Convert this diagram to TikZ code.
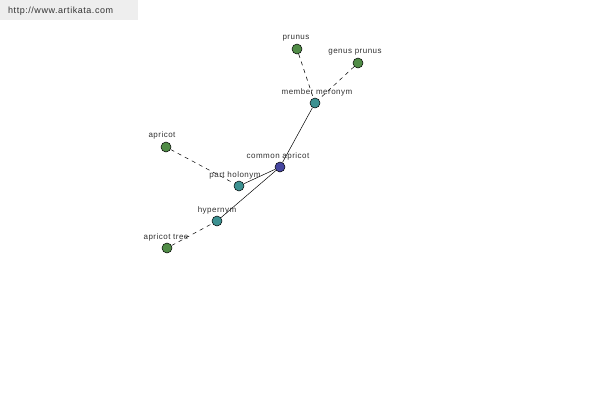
\documentclass[tikz,border=0pt]{standalone}
\usepackage{fontspec}
\setmainfont{Liberation Sans}
\newfontfamily\labfont[LetterSpace=6]{Liberation Sans}
\definecolor{leaf}{RGB}{80,140,70}
\definecolor{mid}{RGB}{60,145,145}
\definecolor{core}{RGB}{70,70,160}
\definecolor{hdr}{RGB}{238,238,238}
\definecolor{lbl}{RGB}{50,50,50}
\tikzset{
  dot/.style={circle,draw=black,line width=0.5pt,minimum size=10pt,inner sep=0pt},
  leafdot/.style={dot,fill=leaf},
  middot/.style={dot,fill=mid},
  coredot/.style={dot,fill=core},
  lab/.style={font=\labfont\fontsize{8pt}{9pt}\selectfont,text=lbl,inner sep=0pt},
  rel/.style={draw=black,line width=0.5pt},
  reld/.style={rel,dash pattern=on 4pt off 4pt}
}
\begin{document}
\begin{tikzpicture}[x=1pt,y=-1pt]
\useasboundingbox[fill=white] (0,0) rectangle (600,400);
\node[fill=hdr,minimum width=138pt,minimum height=20pt,inner sep=0pt,anchor=north west] (hdrbox) at (0,0) {};
\node[font=\labfont\fontsize{9pt}{10pt}\selectfont,text=lbl,anchor=west,inner sep=0pt] (url) at (8,11) {http://www.artikata.com};

\node[coredot] (ca) at (280,167) {};
\node[middot] (mm) at (315,103) {};
\node[leafdot] (pr) at (297,49) {};
\node[leafdot] (gp) at (358,63) {};
\node[leafdot] (ap) at (166,147) {};
\node[middot] (ph) at (239,186) {};
\node[middot] (hy) at (217,221) {};
\node[leafdot] (at) at (167,248) {};

\draw[reld] (pr) -- (mm);
\draw[reld] (gp) -- (mm);
\draw[reld] (ap) -- (ph);
\draw[reld] (at) -- (hy);
\draw[rel] (ca) -- (mm);
\draw[rel] (ca) -- (ph);
\draw[rel] (ca) -- (hy);

\node[lab] (lca) at (278,156) {common apricot};
\node[lab] (lmm) at (317,92) {member meronym};
\node[lab] (lpr) at (296,38) {prunus};
\node[lab] (lgp) at (355,52) {genus prunus};
\node[lab] (lap) at (162,135) {apricot};
\node[lab] (lph) at (235,175) {part holonym};
\node[lab] (lhy) at (217,210) {hypernym};
\node[lab] (lat) at (166,237) {apricot tree};
\end{tikzpicture}
\end{document}
